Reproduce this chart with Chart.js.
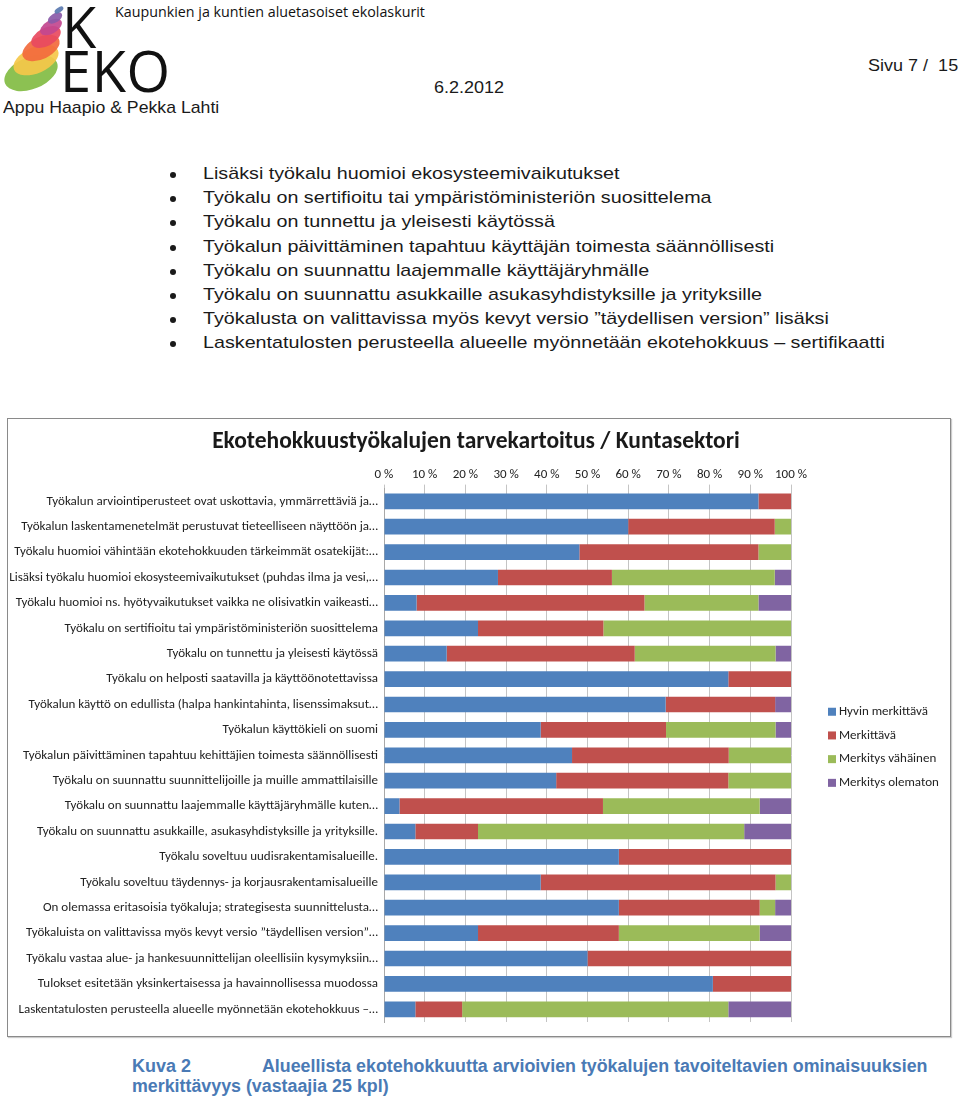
<!DOCTYPE html>
<html><head><meta charset="utf-8">
<script src="https://cdn.jsdelivr.net/npm/chart.js@4/dist/chart.umd.min.js"></script>
<style>
html,body{margin:0;padding:0;background:#fff;}
body{width:960px;height:1101px;position:relative;overflow:hidden;font-family:"Liberation Sans",Arial,sans-serif;color:#1a1a1a;}
.abs{position:absolute;white-space:nowrap;}
.wide{display:inline-block;transform-origin:0 50%;}
#chartBox{position:absolute;left:7px;top:418px;width:942px;height:617px;border:1px solid #8a8a8a;box-shadow:1px 1px 1px #ccc;}
#chartBox canvas{display:block;}
ul.bul{position:absolute;left:0;top:162px;margin:0;padding:0;list-style:none;font-size:17px;}
ul.bul li{position:relative;height:24.2px;line-height:24px;padding-left:203px;white-space:nowrap;}
ul.bul li span{display:inline-block;transform:scaleX(1.16);transform-origin:0 50%;}
ul.bul li:before{content:"";position:absolute;left:170px;top:10px;width:6px;height:6px;border-radius:50%;background:#1a1a1a;}
.cap{font-family:"Liberation Sans Narrow","Arial Narrow","Liberation Sans",sans-serif;font-weight:bold;color:#4a7ab5;font-size:18px;}
</style></head>
<body>
<svg class="abs" style="left:0;top:0" width="180" height="96" viewBox="0 0 180 96">
  <g>
    <ellipse cx="31" cy="73" rx="28" ry="16" fill="#8cc152" transform="rotate(-22 31 73)"/>
    <ellipse cx="36" cy="60" rx="24" ry="13" fill="#f5c84a" opacity="0.92" transform="rotate(-24 36 60)"/>
    <ellipse cx="41" cy="48" rx="20" ry="11" fill="#f26a3d" opacity="0.92" transform="rotate(-26 41 48)"/>
    <ellipse cx="46" cy="37" rx="16" ry="9" fill="#e84a5f" opacity="0.92" transform="rotate(-28 46 37)"/>
    <ellipse cx="51" cy="27" rx="12" ry="6.5" fill="#c2478f" opacity="0.92" transform="rotate(-30 51 27)"/>
    <ellipse cx="55" cy="18" rx="8" ry="4.5" fill="#8a5aa8" opacity="0.92" transform="rotate(-32 55 18)"/>
    <ellipse cx="59" cy="10" rx="5" ry="2.5" fill="#5a7ab0" opacity="0.92" transform="rotate(-34 59 10)"/>
  </g>
  <text x="62" y="48" font-family="Open Sans, sans-serif" font-size="56" fill="#111">K</text>
  <text x="60" y="92" font-family="Open Sans, sans-serif" font-size="56" fill="#111" textLength="110">EKO</text>
</svg>
<div class="abs" style="left:115px;top:2px;font-family:'Open Sans',sans-serif;font-size:14px;color:#111;"><span class="wide" style="transform:scaleX(1.02)">Kaupunkien ja kuntien aluetasoiset ekolaskurit</span></div>
<div class="abs" style="left:3px;top:98px;font-size:17px;"><span class="wide" style="transform:scaleX(1.04)">Appu Haapio &amp; Pekka Lahti</span></div>
<div class="abs" style="left:434px;top:78px;font-size:17px;"><span class="wide" style="transform:scaleX(1.06)">6.2.2012</span></div>
<div class="abs" style="left:868px;top:56px;font-size:17px;"><span class="wide" style="transform:scaleX(1.06)">Sivu 7 / &nbsp;15</span></div>

<ul class="bul">
<li><span>Lisäksi työkalu huomioi ekosysteemivaikutukset</span></li>
<li><span>Työkalu on sertifioitu tai ympäristöministeriön suosittelema</span></li>
<li><span>Työkalu on tunnettu ja yleisesti käytössä</span></li>
<li><span>Työkalun päivittäminen tapahtuu käyttäjän toimesta säännöllisesti</span></li>
<li><span>Työkalu on suunnattu laajemmalle käyttäjäryhmälle</span></li>
<li><span>Työkalu on suunnattu asukkaille asukasyhdistyksille ja yrityksille</span></li>
<li><span>Työkalusta on valittavissa myös kevyt versio ”täydellisen version” lisäksi</span></li>
<li><span>Laskentatulosten perusteella alueelle myönnetään ekotehokkuus – sertifikaatti</span></li>
</ul>

<div id="chartBox"><canvas id="c" width="942" height="617"></canvas></div>

<div class="abs cap" style="left:132px;top:1056px;">Kuva 2</div>
<div class="abs cap" style="left:262px;top:1056px;"><span class="wide" style="transform:scaleX(0.99)">Alueellista ekotehokkuutta arvioivien työkalujen tavoiteltavien ominaisuuksien</span></div>
<div class="abs cap" style="left:132px;top:1076px;"><span class="wide" style="transform:scaleX(0.99)">merkittävyys (vastaajia 25 kpl)</span></div>

<script>
const categories = [
 "Työkalun arviointiperusteet ovat uskottavia, ymmärrettäviä ja…",
 "Työkalun laskentamenetelmät perustuvat tieteelliseen näyttöön ja…",
 "Työkalu huomioi vähintään ekotehokkuuden tärkeimmät osatekijät:…",
 "Lisäksi työkalu huomioi ekosysteemivaikutukset (puhdas ilma ja vesi,…",
 "Työkalu huomioi ns. hyötyvaikutukset vaikka ne olisivatkin vaikeasti…",
 "Työkalu on sertifioitu tai ympäristöministeriön suosittelema",
 "Työkalu on tunnettu ja yleisesti käytössä",
 "Työkalu on helposti saatavilla ja käyttöönotettavissa",
 "Työkalun käyttö on edullista (halpa hankintahinta, lisenssimaksut…",
 "Työkalun käyttökieli on suomi",
 "Työkalun päivittäminen tapahtuu kehittäjien toimesta säännöllisesti",
 "Työkalu on suunnattu suunnittelijoille ja muille ammattilaisille",
 "Työkalu on suunnattu laajemmalle käyttäjäryhmälle kuten…",
 "Työkalu on suunnattu asukkaille, asukasyhdistyksille ja yrityksille.",
 "Työkalu soveltuu uudisrakentamisalueille.",
 "Työkalu soveltuu täydennys- ja korjausrakentamisalueille",
 "On olemassa eritasoisia työkaluja; strategisesta suunnittelusta…",
 "Työkaluista on valittavissa myös kevyt versio ”täydellisen version”…",
 "Työkalu vastaa alue- ja hankesuunnittelijan oleellisiin kysymyksiin…",
 "Tulokset esitetään yksinkertaisessa ja havainnollisessa muodossa",
 "Laskentatulosten perusteella alueelle myönnetään ekotehokkuus –…"
];
const hyvinMerkittava   = [92,60,48,28, 8,23.1,15.4,84.6,69.2,38.5,46.2,42.3, 3.8, 7.7,57.7,38.5,57.7,23.1,50,80.8, 7.7];
const merkittava        = [ 8,36,44,28,56,30.8,46.2,15.4,26.9,30.8,38.5,42.3,50.0,15.4,42.3,57.7,34.6,34.6,50,19.2,11.5];
const merkitysVahainen  = [ 0, 4, 8,40,28,46.1,34.6, 0,   0,  26.9,15.4,15.4,38.5,65.4, 0,   3.8, 3.8,34.6, 0, 0,  65.4];
const merkitysOlematon  = [ 0, 0, 0, 4, 8, 0,   3.8, 0,   3.9, 3.8, 0,   0,   7.7,11.5, 0,   0,   3.9, 7.7, 0, 0,  15.4];
const seriesNames = ["Hyvin merkittävä","Merkittävä","Merkitys vähäinen","Merkitys olematon"];
const xTickLabels = ["0 %","10 %","20 %","30 %","40 %","50 %","60 %","70 %","80 %","90 %","100 %"];
const chartTitle = "Ekotehokkuustyökalujen tarvekartoitus / Kuntasektori";

const colors = ["#4F81BD","#C0504D","#9BBB59","#8064A2"];
const FONT = "Carlito, Calibri, Lato, sans-serif";

const titlePlugin = {
  id:'centerTitle',
  afterDraw(chart){
    const ctx = chart.ctx;
    ctx.save();
    ctx.font = "bold 23.5px " + FONT;
    ctx.fillStyle = "#1a1a1a";
    ctx.textAlign = "center";
    ctx.textBaseline = "middle";
    ctx.fillText(chartTitle, chart.width/2 - 3, 23);
    ctx.restore();
  }
};

const legendPlugin = {
  id:'sideLegend',
  afterDraw(chart){
    const ctx = chart.ctx, ca = chart.chartArea;
    const x0 = ca.right + 37;
    const yc = (ca.top + ca.bottom)/2 - 8;
    const step = 23.7;
    const n = chart.data.datasets.length;
    ctx.save();
    ctx.font = "13px " + FONT;
    ctx.textBaseline = "middle";
    chart.data.datasets.forEach((ds,i)=>{
      const y = yc + (i - (n-1)/2)*step;
      ctx.fillStyle = ds.backgroundColor;
      ctx.fillRect(x0, y-4, 8, 8);
      ctx.fillStyle = "#222";
      ctx.fillText(ds.label, x0 + 11, y);
    });
    ctx.restore();
  }
};

new Chart(document.getElementById('c'), {
  type:'bar',
  data:{
    labels: categories,
    datasets:[hyvinMerkittava,merkittava,merkitysVahainen,merkitysOlematon].map((d,i)=>({
      label: seriesNames[i], data: d, backgroundColor: colors[i], borderWidth:0,
      barPercentage:0.62, categoryPercentage:1
    }))
  },
  options:{
    indexAxis:'y',
    responsive:false,
    animation:false,
    layout:{padding:{left:0,right:159,top:46,bottom:14}},
    plugins:{
      legend:{display:false},
      tooltip:{enabled:false},
      title:{display:false}
    },
    scales:{
      x:{position:'top',stacked:true,min:0,max:100,
         ticks:{stepSize:10,color:"#222",font:{family:FONT,size:13},padding:2,
                callback:(v,i)=>xTickLabels[i]},
         grid:{color:"#c4c4c4",drawTicks:true,tickLength:4},
         border:{display:false}},
      y:{stacked:true,
         ticks:{color:"#222",font:{family:FONT,size:13},padding:6,autoSkip:false},
         grid:{display:false,drawTicks:false},
         border:{display:true,color:"#a8a8a8"},
         afterFit(s){ s.width = 376; }}
    }
  },
  plugins:[titlePlugin, legendPlugin]
});
</script>
</body></html>
